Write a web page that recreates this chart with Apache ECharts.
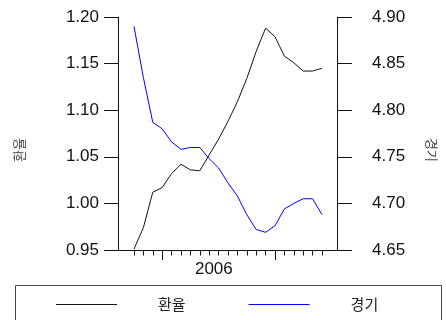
<!DOCTYPE html>
<html>
<head>
<meta charset="utf-8">
<script src="https://cdn.jsdelivr.net/npm/echarts@6/dist/echarts.min.js"></script>
<style>html,body{margin:0;padding:0;background:#fff}#c{width:446px;height:320px}</style>
</head>
<body>
<div id="c"></div>
<script>
const months = ['2005-10','2005-11','2005-12','2006-01','2006-02','2006-03','2006-04','2006-05','2006-06','2006-07','2006-08','2006-09','2006-10','2006-11','2006-12','2007-01','2007-02','2007-03','2007-04','2007-05','2007-06'];
const exchangeRate = [0.951, 0.974, 1.012, 1.017, 1.032, 1.042, 1.036, 1.035, 1.052, 1.069, 1.088, 1.109, 1.134, 1.163, 1.188, 1.179, 1.158, 1.151, 1.142, 1.142, 1.145];
const economy = [4.890, 4.835, 4.787, 4.780, 4.766, 4.758, 4.760, 4.760, 4.748, 4.738, 4.722, 4.708, 4.688, 4.672, 4.669, 4.676, 4.694, 4.700, 4.705, 4.705, 4.688];
const leftTicks = [0.95, 1.00, 1.05, 1.10, 1.15, 1.20];
const rightTicks = [4.65, 4.70, 4.75, 4.80, 4.85, 4.90];
const yearStarts = ['2006-01', '2007-01'];
const yearLabels = ['2006'];
const seriesNames = ['환율', '경기'];

const idx = months.map((m, i) => i);
const majorTicks = yearStarts.map(m => months.indexOf(m));
const labelPos = [months.indexOf('2006-06') + 0.5];
const font = 'Liberation Sans, Arial, sans-serif';
const cjk = 'Noto Sans CJK KR, sans-serif';

const chart = echarts.init(document.getElementById('c'), null, {renderer: 'canvas'});
chart.setOption({
  animation: false,
  backgroundColor: '#fff',
  textStyle: {fontFamily: font},
  grid: {left: 118, right: 109, top: 17, bottom: 70, containLabel: false},
  xAxis: [{
    type: 'value', min: -1.7, max: 21.6,
    axisLine: {show: true, onZero: false, lineStyle: {color: '#111', width: 1}},
    axisTick: {show: true, length: 5.5, customValues: idx, lineStyle: {color: '#111'}},
    axisLabel: {show: true, customValues: labelPos, formatter: () => yearLabels[0], fontSize: 17, color: '#111', margin: 11, fontFamily: font},
    splitLine: {show: false}
  }, {
    type: 'value', min: -1.7, max: 21.6, position: 'bottom',
    axisLine: {show: false, onZero: false},
    axisTick: {show: true, length: 10, customValues: majorTicks, lineStyle: {color: '#111'}},
    axisLabel: {show: false},
    splitLine: {show: false}
  }],
  yAxis: [{
    type: 'value', position: 'left',
    min: leftTicks[0], max: leftTicks[leftTicks.length - 1], interval: 0.05,
    axisLine: {show: true, onZero: false, lineStyle: {color: '#111', width: 1}},
    axisTick: {show: true, length: 14, lineStyle: {color: '#111'}},
    axisLabel: {formatter: v => v.toFixed(2), fontSize: 17, color: '#111', margin: 19, fontFamily: font},
    splitLine: {show: false}
  }, {
    type: 'value', position: 'right',
    min: rightTicks[0], max: rightTicks[rightTicks.length - 1], interval: 0.05,
    axisLine: {show: true, onZero: false, lineStyle: {color: '#111', width: 1}},
    axisTick: {show: true, length: 15, lineStyle: {color: '#111'}},
    axisLabel: {formatter: v => v.toFixed(2), fontSize: 17, color: '#111', margin: 35, fontFamily: font},
    splitLine: {show: false}
  }],
  legend: {
    left: 56, top: 297, padding: 0,
    itemWidth: 61, itemHeight: 14, itemGap: 63,
    textStyle: {fontFamily: cjk, fontSize: 15, color: '#222', padding: [0, 0, 0, 36]},
    data: seriesNames.map(n => ({name: n, icon: 'path://M0,0 L61,0 L61,1 L0,1 Z'}))
  },
  graphic: [
    {type: 'rect', shape: {x: 15.5, y: 285.5, width: 426, height: 50}, style: {fill: 'none', stroke: '#444', lineWidth: 1}, silent: true},
    {type: 'text', x: 19, y: 150, rotation: Math.PI / 2, style: {text: seriesNames[0], font: '13px ' + cjk, fill: '#444', textAlign: 'center', textVerticalAlign: 'middle'}},
    {type: 'text', x: 432, y: 150, rotation: -Math.PI / 2, style: {text: seriesNames[1], font: '13px ' + cjk, fill: '#444', textAlign: 'center', textVerticalAlign: 'middle'}}
  ],
  series: [{
    name: seriesNames[0], type: 'line', xAxisIndex: 0, yAxisIndex: 0,
    symbol: 'none', data: exchangeRate.map((v, i) => [idx[i], v]),
    lineStyle: {color: '#111', width: 1}, itemStyle: {color: '#111'}
  }, {
    name: seriesNames[1], type: 'line', xAxisIndex: 0, yAxisIndex: 1,
    symbol: 'none', data: economy.map((v, i) => [idx[i], v]),
    lineStyle: {color: '#0000ff', width: 1}, itemStyle: {color: '#0000ff'}
  }]
});
</script>
</body>
</html>
